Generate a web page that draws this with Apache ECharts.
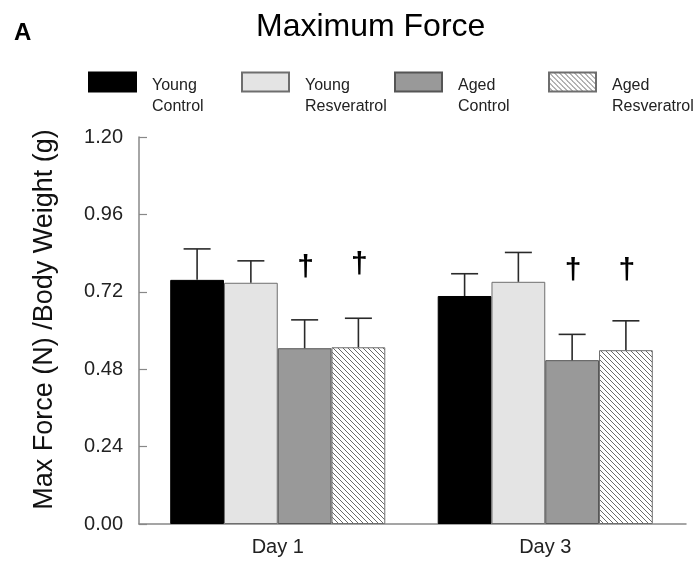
<!DOCTYPE html>
<html>
<head>
<meta charset="utf-8">
<script src="https://cdn.jsdelivr.net/npm/echarts@6/dist/echarts.min.js"></script>
<style>html,body{margin:0;padding:0;background:#fff;}#main{width:696px;height:564px;}</style>
</head>
<body>
<div id="main"></div>
<script>
// ---- data ----
const categories = ['Day 1', 'Day 3'];
const seriesNames = ['Young Control', 'Young Resveratrol', 'Aged Control', 'Aged Resveratrol'];
const youngControl = [0.757, 0.707];
const youngResveratrol = [0.748, 0.751];
const agedControl = [0.545, 0.508];
const agedResveratrol = [0.548, 0.539];
const youngControlErr = [0.096, 0.069];
const youngResveratrolErr = [0.068, 0.091];
const agedControlErr = [0.088, 0.080];
const agedResveratrolErr = [0.090, 0.091];
// significance markers (†) and the value level where they sit
const agedControlSig = ['†', '†'];
const agedResveratrolSig = ['†', '†'];
const agedControlSigLevel = [0.794, 0.785];
const agedResveratrolSigLevel = [0.803, 0.785];
const yMin = 0, yMax = 1.2, yStep = 0.24;

const means = [youngControl, youngResveratrol, agedControl, agedResveratrol];
const errs = [youngControlErr, youngResveratrolErr, agedControlErr, agedResveratrolErr];
const sigs = [['', ''], ['', ''], agedControlSig, agedResveratrolSig];
const sigLevels = [[null, null], [null, null], agedControlSigLevel, agedResveratrolSigLevel];

// hatch pattern
function hatch() {
  const s = 5, c = document.createElement('canvas');
  c.width = s; c.height = s;
  const g = c.getContext('2d');
  g.fillStyle = '#ffffff'; g.fillRect(0, 0, s, s);
  g.strokeStyle = '#6a6a6a'; g.lineWidth = 1;
  g.beginPath();
  g.moveTo(-1, -1); g.lineTo(s + 1, s + 1);
  g.moveTo(-1, s - 1); g.lineTo(1, s + 1);
  g.moveTo(s - 1, -1); g.lineTo(s + 1, 1);
  g.stroke();
  return c;
}
const fills = ['#000000', '#e4e4e4', '#999999', { image: hatch(), repeat: 'repeat' }];
const borders = ['#000000', '#6e6e6e', '#555555', '#6e6e6e'];

const GAP = 0.196;
const FONT = 'Liberation Sans, Arial, sans-serif';

const barSeries = seriesNames.map((n, i) => ({
  name: n, type: 'bar', xAxisIndex: 0, yAxisIndex: 0,
  barGap: '0%', barCategoryGap: (GAP * 100) + '%',
  data: means[i],
  itemStyle: { color: fills[i], borderColor: borders[i], borderWidth: 1 },
  z: 2
}));

const errData = [];
for (let i = 0; i < 4; i++) {
  for (let c = 0; c < categories.length; c++) {
    errData.push([c, means[i][c], errs[i][c], i, sigs[i][c], sigLevels[i][c]]);
  }
}

const errSeries = {
  type: 'custom', xAxisIndex: 0, yAxisIndex: 0, z: 5,
  data: errData,
  renderItem: function (params, api) {
    const c = api.value(0), m = api.value(1), e = api.value(2), i = api.value(3);
    const band = api.size([1, 0])[0];
    const bw = band * (1 - GAP) / 4;
    const off = (i - 1.5) * bw;
    const p0 = api.coord([c, m]);
    const p1 = api.coord([c, m + e]);
    const x = p0[0] + off;
    const cap = 13.5;
    const ls = { stroke: '#2a2a2a', lineWidth: 1.6 };
    const children = [
      { type: 'line', shape: { x1: x, y1: p0[1], x2: x, y2: p1[1] }, style: ls },
      { type: 'line', shape: { x1: x - cap, y1: p1[1], x2: x + cap, y2: p1[1] }, style: ls }
    ];
    const sig = errData[params.dataIndex][4];
    const lvl = errData[params.dataIndex][5];
    if (sig) {
      const ps = api.coord([c, lvl]);
      children.push({
        type: 'text',
        style: { text: sig, x: x + 1, y: ps[1], align: 'center', verticalAlign: 'middle',
          fontSize: 30, fontWeight: 'bold', fontFamily: FONT, fill: '#000' }
      });
    }
    return { type: 'group', children: children };
  }
};

const legendLefts = [88, 241, 394, 548];
const legends = seriesNames.map((n, i) => ({
  data: [n], left: legendLefts[i], top: 59, padding: 0,
  itemWidth: 47, itemHeight: 19, icon: 'rect', selectedMode: false,
  formatter: name => { const p = name.split(' '); return '{s| }\n{t|' + p[0] + '}\n{t|' + p[1] + '}'; },
  textStyle: {
    fontSize: 16, fontFamily: FONT, color: '#222',
    rich: {
      s: { fontSize: 4, lineHeight: 29 },
      t: { fontSize: 16, fontFamily: FONT, color: '#222', lineHeight: 21, padding: [0, 0, 0, 11] }
    }
  }
}));

const chart = echarts.init(document.getElementById('main'), null, { renderer: 'canvas' });
chart.setOption({
  animation: false,
  backgroundColor: '#fff',
  title: [
    { text: 'Maximum Force', left: 251, top: 6, textStyle: { fontSize: 32, fontWeight: 'normal', fontFamily: FONT, color: '#000' } },
    { text: 'A', left: 9, top: 16, textStyle: { fontSize: 24, fontWeight: 'bold', fontFamily: FONT, color: '#000' } }
  ],
  legend: legends,
  grid: [
    { left: 144, right: 17, top: 137, bottom: 40 },
    { left: 139, right: 10, top: 137, bottom: 40 }
  ],
  xAxis: [
    { type: 'category', gridIndex: 0, data: categories,
      axisLine: { show: false }, axisTick: { show: false },
      axisLabel: { fontSize: 20, fontFamily: FONT, color: '#222', margin: 13 } },
    { type: 'value', gridIndex: 1, min: 0, max: 1,
      axisLine: { show: true, lineStyle: { color: '#888', width: 1.5 } },
      axisTick: { show: false }, axisLabel: { show: false }, splitLine: { show: false } }
  ],
  yAxis: [
    { type: 'value', gridIndex: 0, min: yMin, max: yMax, interval: yStep, offset: 5,
      name: 'Max Force (N) /Body Weight (g)', nameLocation: 'middle', nameGap: 81,
      nameTextStyle: { fontSize: 27, fontFamily: FONT, color: '#111', padding: [0, 0, 0, 22] },
      axisLine: { show: true, lineStyle: { color: '#888', width: 1.5 } },
      axisTick: { show: true, inside: true, length: 8, lineStyle: { color: '#888', width: 1.2 } },
      axisLabel: { fontSize: 20, fontFamily: FONT, color: '#222', margin: 16, formatter: v => v.toFixed(2) },
      splitLine: { show: false } },
    { type: 'value', gridIndex: 1, min: 0, max: 1, show: false }
  ],
  series: barSeries.concat([errSeries])
});
</script>
</body>
</html>
